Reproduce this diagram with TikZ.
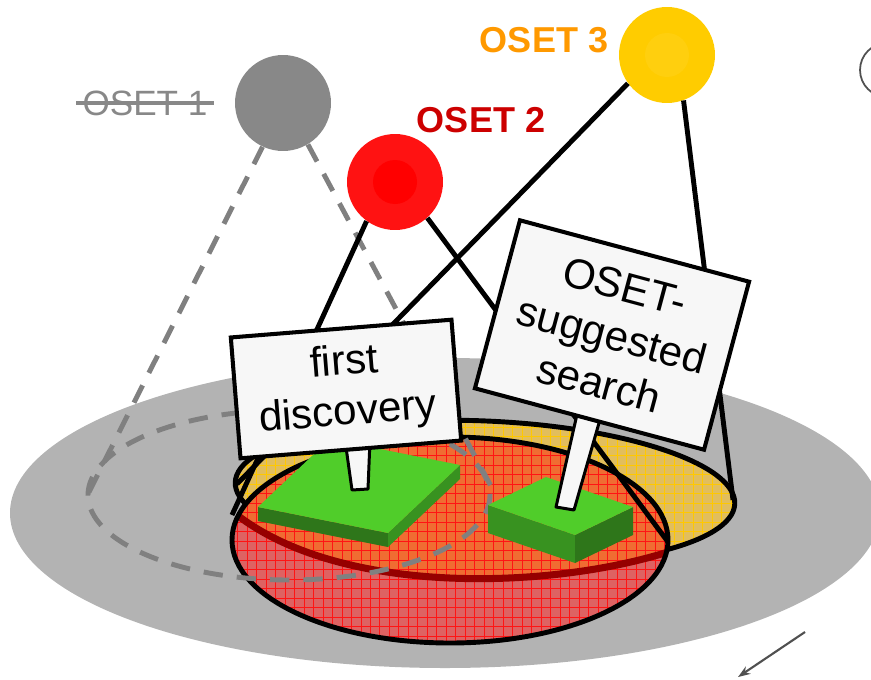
\documentclass[tikz,border=0pt]{standalone}
\usepackage{fontspec}
\setmainfont{Liberation Sans}
\usetikzlibrary{arrows.meta}

\definecolor{fieldgrey}{RGB}{179,179,179}
\definecolor{yellowfill}{RGB}{226,190,92}
\definecolor{yellowgrid}{RGB}{255,200,0}
\definecolor{redfill}{RGB}{222,98,98}
\definecolor{orangefill}{RGB}{240,108,50}
\definecolor{redgrid}{RGB}{255,20,20}
\definecolor{rimred}{RGB}{150,0,0}
\definecolor{trailgrey}{RGB}{128,128,128}
\definecolor{greentop}{RGB}{80,205,42}
\definecolor{greendark}{RGB}{46,118,26}
\definecolor{greenmid}{RGB}{56,146,32}
\definecolor{signwhite}{RGB}{247,247,247}
\definecolor{osetgrey}{RGB}{136,136,136}
\definecolor{osetred}{RGB}{255,18,18}
\definecolor{osetyellow}{RGB}{255,204,0}
\definecolor{yellowcore}{RGB}{255,207,14}
\definecolor{labelred}{RGB}{204,0,0}
\definecolor{labelorange}{RGB}{255,153,0}
\definecolor{markgrey}{RGB}{80,80,80}

\begin{document}
\begin{tikzpicture}
[x=0.02cm, y=-0.02cm,
 zone/.style={draw=black, line width=2.8pt},
 cone/.style={line width=2.8pt},
 trail/.style={draw=trailgrey, line width=2.8pt, dash pattern=on 11pt off 8pt},
 oset/.style={circle, minimum size=1.92cm, inner sep=0pt},
 osetname/.style={font=\fontsize{20.5}{24}\selectfont\bfseries},
 signboard/.style={draw, line width=2.3pt, fill=signwhite, align=center,
   inner sep=0pt, font=\fontsize{24}{28.5}\selectfont},
 stick/.style={draw, line width=1.7pt, fill=signwhite, line join=round}]

\useasboundingbox (0,0) rectangle (871,679);
\clip (0,0) rectangle (871,679);

% search field
\fill[fieldgrey] (445,513) ellipse [x radius=435, y radius=155];

% OSET 3 zone
\begin{scope}
  \clip[rotate around={-2.5:(485,493)}] (485,493) ellipse [x radius=250, y radius=72];
  \fill[yellowfill] (200,380) rectangle (760,600);
  \draw[yellowgrid, line width=0.5pt, step=0.19cm] (200,600) grid (760,380);
\end{scope}
\draw[zone, rotate around={-2.5:(485,493)}] (485,493) ellipse [x radius=250, y radius=72];

% OSET 2 zone
\begin{scope}
  \clip (450,540) ellipse [x radius=218, y radius=103];
  \fill[redfill] (220,430) rectangle (680,650);
  \fill[orangefill] (225,505) .. controls (330,600) and (560,590) .. (680,548)
    -- (680,430) -- (225,430) -- cycle;
  \draw[redgrid, line width=0.5pt, step=0.19cm] (220,650) grid (680,430);
  \draw[rimred, line width=4pt] (225,505) .. controls (330,600) and (560,590) .. (680,548);
\end{scope}
\draw[zone] (450,540) ellipse [x radius=218, y radius=103];

% OSET 1 zone, dropped
\draw[trail] (289,495) ellipse [x radius=201, y radius=85];

% the three OSETs
\node[oset, fill=osetgrey] (o1) at (283,103) {};
\node[oset, fill=osetred] (o2) at (395,182) {};
\fill[red] (o2) circle [radius=22];
\node[oset, fill=osetyellow] (o3) at (667,55) {};
\fill[yellowcore] (o3) circle [radius=22];

\node[text=osetgrey, font=\fontsize{20}{24}\selectfont] (n1) at (145,103) {OSET 1};
\draw[osetgrey, line width=2.3pt] (n1.west) -- (n1.east);
\node[osetname, text=labelred] (n2) at (481,120) {OSET 2};
\node[osetname, text=labelorange] (n3) at (544,40) {OSET 3};

% cones down to the zones
\coordinate (t-left) at (89,492);
\coordinate (t-right) at (493,490);
\coordinate (r-left) at (232,515);
\coordinate (r-right) at (668,542);
\coordinate (y-left) at (237,484);
\coordinate (y-right) at (733,500);

\draw[trail] (o1.-115) -- (t-left);
\draw[trail] (o1.-59) -- (t-right);
\draw[cone] (o2.-126) -- (r-left);
\draw[cone] (o2.-48) -- (r-right);
\draw[cone] (o3.-144) -- (y-left);
\draw[cone] (o3.-70) -- (y-right);

% plots
\fill[greendark] (258,507) -- (388,533) -- (388,547) -- (258,521) -- cycle;
\fill[greenmid] (388,533) -- (460,465) -- (460,479) -- (388,547) -- cycle;
\fill[greentop] (258,507) -- (330,439) -- (460,465) -- (388,533) -- cycle;

\fill[greenmid] (488,505) -- (575,535) -- (575,563) -- (488,533) -- cycle;
\fill[greendark] (575,535) -- (633,507) -- (633,535) -- (575,563) -- cycle;
\fill[greentop] (488,505) -- (546,477) -- (633,507) -- (575,535) -- cycle;

% signs
\draw[stick] (345,440) -- (370,440) -- (368,489) -- (352,490) -- cycle;
\draw[stick] (578,410) -- (601,416) -- (574,510) -- (556,507) -- cycle;

\node[signboard, rotate=4.6, minimum width=126pt, minimum height=69pt]
  (first) at (346,389) {first\\discovery};
\node[signboard, rotate=-15, minimum width=135pt, minimum height=99pt]
  (suggest) at (612,335) {OSET-\\suggested\\search};

% odds and ends at the edges
\draw[markgrey, line width=1pt] (887,70) circle [radius=27];
\coordinate (a-start) at (805,632);
\coordinate (a-end) at (738,677);
\draw[markgrey, line width=1.2pt, -{Stealth[length=7pt,width=5pt]}] (a-start) -- (a-end);

\end{tikzpicture}
\end{document}
